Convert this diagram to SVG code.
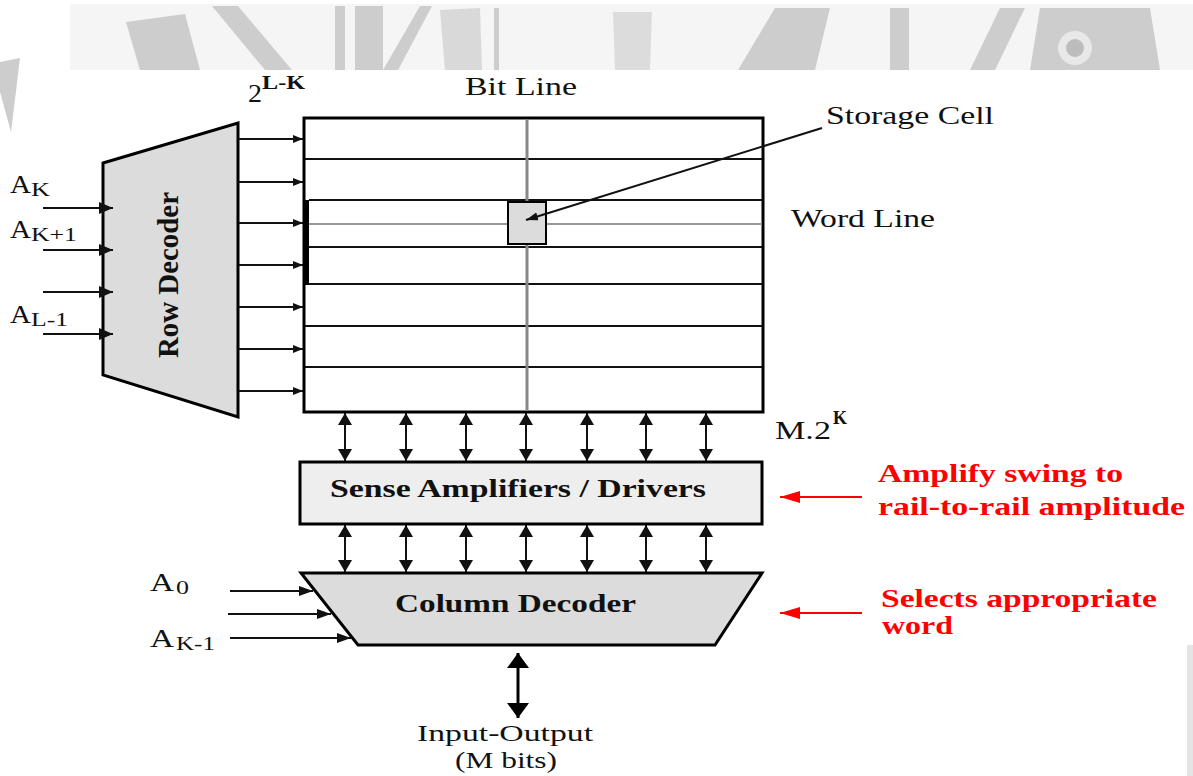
<svg xmlns="http://www.w3.org/2000/svg" width="1193" height="776" viewBox="0 0 1193 776">
<style>
.t{font-family:"Liberation Serif","Times New Roman",serif;fill:#111;font-size:26px}
.b{font-weight:bold}
.red{fill:#ff0000;font-weight:bold}
.sub{font-size:18px}
.io{font-size:24px}
.ln{stroke:#111;stroke-width:2;fill:none}
.box{stroke:#000;stroke-width:3}
.wm{fill:#cdcdcd}
</style>
<defs>
<marker id="aSm" markerUnits="userSpaceOnUse" markerWidth="11" markerHeight="9" refX="10" refY="4" orient="auto"><path d="M0,0 L10,4 L0,8 z" fill="#111"/></marker>
<marker id="aIn" markerUnits="userSpaceOnUse" markerWidth="15" markerHeight="13" refX="14" refY="6" orient="auto"><path d="M0,0 L14,6 L0,12 z" fill="#111"/></marker>
<marker id="aV" markerUnits="userSpaceOnUse" markerWidth="13" markerHeight="15" refX="12" refY="7" orient="auto-start-reverse"><path d="M0,0 L12,7 L0,14 z" fill="#111"/></marker>
<marker id="aCol" markerUnits="userSpaceOnUse" markerWidth="15" markerHeight="11" refX="14" refY="5" orient="auto"><path d="M0,0 L14,5 L0,10 z" fill="#111"/></marker>
<marker id="aIO" markerUnits="userSpaceOnUse" markerWidth="16" markerHeight="23" refX="15" refY="11" orient="auto-start-reverse"><path d="M0,0 L15,11 L0,22 z" fill="#000"/></marker>
<marker id="aRed" markerUnits="userSpaceOnUse" markerWidth="21" markerHeight="13" refX="20" refY="6" orient="auto"><path d="M0,0 L20,6 L0,12 z" fill="#ff0000"/></marker>
<marker id="aCell" markerUnits="userSpaceOnUse" markerWidth="13" markerHeight="9" refX="12" refY="4" orient="auto"><path d="M0,0 L12,4 L0,8 z" fill="#111"/></marker>
</defs>
<rect width="1193" height="776" fill="#fff"/>

<!-- watermark band -->
<g id="watermark">
<rect x="70" y="4" width="1123" height="66" fill="#f5f5f5"/>
<polygon class="wm" points="126,22 185,14 200,70 140,70"/>
<polygon class="wm" points="212,6 238,6 292,70 265,70"/>
<polygon class="wm" points="335,6 345,6 345,70 335,70"/>
<polygon class="wm" points="355,6 383,6 383,70 355,70"/>
<polygon class="wm" points="383,70 420,6 432,6 398,70"/>
<polygon class="wm" points="440,10 480,8 482,70 445,70" fill-opacity="0.7"/>
<rect x="494" y="8" width="5" height="62" class="wm"/>
<polygon points="613,12 652,12 650,70 615,70" fill="#dcdcdc"/>
<polygon class="wm" points="775,8 830,8 815,70 738,70"/>
<rect x="890" y="8" width="19" height="62" class="wm"/>
<polygon class="wm" points="1000,8 1025,8 995,70 970,70"/>
<polygon class="wm" points="1040,8 1150,8 1160,70 1030,70"/>
<circle cx="1075" cy="48" r="17" fill="#e8e8e8"/>
<circle cx="1075" cy="48" r="9" fill="#bdbdbd"/>
<polygon class="wm" points="0,62 20,58 11,132 0,92"/>
<rect x="1187" y="645" width="6" height="131" fill="#e4e4e4"/>
</g>

<!-- Row decoder -->
<g id="row-decoder">
<polygon class="box" points="103,163 238,123 238,417 103,375" fill="#dcdcdc"/>
<text class="t b" transform="translate(178,275) scale(1.15,1) rotate(-90)" text-anchor="middle" font-size="27" textLength="166" lengthAdjust="spacingAndGlyphs">Row Decoder</text>
</g>

<!-- Memory array -->
<g id="memory-array">
<rect x="304" y="118" width="459" height="294" fill="#fff" class="box"/>
<rect x="303" y="200" width="6" height="85" fill="#000"/>
<g stroke="#111" stroke-width="2">
<line x1="305" y1="159" x2="762" y2="159"/>
<line x1="309" y1="200" x2="762" y2="200"/>
<line x1="309" y1="247" x2="762" y2="247"/>
<line x1="309" y1="284" x2="762" y2="284"/>
<line x1="305" y1="326" x2="762" y2="326"/>
<line x1="305" y1="367" x2="762" y2="367"/>
</g>
<line id="word-line" x1="309" y1="224" x2="762" y2="224" stroke="#999" stroke-width="2"/>
<line id="bit-line" x1="527" y1="119" x2="527" y2="411" stroke="#888" stroke-width="3"/>
</g>

<g id="storage-cell">
<rect x="508" y="202" width="38" height="42" fill="#dcdcdc" stroke="#000" stroke-width="2"/>
</g>

<!-- Sense amplifiers -->
<g id="sense-amplifiers">
<rect x="300" y="462" width="462" height="62" fill="#eeeeee" class="box"/>
<text class="t b" x="330" y="497" textLength="376" lengthAdjust="spacingAndGlyphs">Sense Amplifiers / Drivers</text>
</g>

<!-- Column decoder -->
<g id="column-decoder">
<polygon class="box" points="301,573 762,573 715,645 358,645" fill="#dcdcdc"/>
<text class="t b" x="395" y="612" textLength="241" lengthAdjust="spacingAndGlyphs">Column Decoder</text>
</g>

<!-- Labels -->
<g id="labels">
<text class="t" x="248" y="102" textLength="14" lengthAdjust="spacingAndGlyphs">2</text>
<text class="t b sub" x="262" y="89" textLength="43" lengthAdjust="spacingAndGlyphs">L-K</text>
<text class="t" x="465" y="95" textLength="112" lengthAdjust="spacingAndGlyphs">Bit Line</text>
<text class="t" x="826" y="124" textLength="168" lengthAdjust="spacingAndGlyphs">Storage Cell</text>
<text class="t" x="791" y="227" textLength="144" lengthAdjust="spacingAndGlyphs">Word Line</text>
<text class="t" x="775" y="439" textLength="56" lengthAdjust="spacingAndGlyphs">M.2</text>
<text class="t b sub" x="833" y="424" textLength="14" lengthAdjust="spacingAndGlyphs">K</text>

<text class="t" x="10" y="193" textLength="21" lengthAdjust="spacingAndGlyphs">A</text>
<text class="t sub" x="31" y="196" textLength="19" lengthAdjust="spacingAndGlyphs">K</text>
<text class="t" x="10" y="238" textLength="21" lengthAdjust="spacingAndGlyphs">A</text>
<text class="t sub" x="31" y="241" textLength="46" lengthAdjust="spacingAndGlyphs">K+1</text>
<text class="t" x="10" y="323" textLength="21" lengthAdjust="spacingAndGlyphs">A</text>
<text class="t sub" x="31" y="326" textLength="37" lengthAdjust="spacingAndGlyphs">L-1</text>

<text class="t" x="150" y="591" textLength="24" lengthAdjust="spacingAndGlyphs">A</text>
<text class="t sub" x="176" y="594" textLength="13" lengthAdjust="spacingAndGlyphs">0</text>
<text class="t" x="150" y="647" textLength="24" lengthAdjust="spacingAndGlyphs">A</text>
<text class="t sub" x="176" y="650" textLength="39" lengthAdjust="spacingAndGlyphs">K-1</text>

<text class="t io" x="417" y="741" textLength="176" lengthAdjust="spacingAndGlyphs">Input-Output</text>
<text class="t io" x="455" y="768" textLength="102" lengthAdjust="spacingAndGlyphs">(M bits)</text>

<text class="t red" x="878" y="482" textLength="245" lengthAdjust="spacingAndGlyphs">Amplify swing to</text>
<text class="t red" x="878" y="515" textLength="307" lengthAdjust="spacingAndGlyphs">rail-to-rail amplitude</text>
<text class="t red" x="881" y="607" textLength="276" lengthAdjust="spacingAndGlyphs">Selects appropriate</text>
<text class="t red" x="882" y="634" textLength="71" lengthAdjust="spacingAndGlyphs">word</text>
</g>

<!-- Connectors -->
<g id="connectors">
<g class="ln" marker-end="url(#aIn)">
<line x1="43" y1="208" x2="113" y2="208"/>
<line x1="43" y1="250" x2="113" y2="250"/>
<line x1="43" y1="292" x2="113" y2="292"/>
<line x1="43" y1="334" x2="113" y2="334"/>
</g>
<g class="ln" marker-end="url(#aSm)">
<line x1="239" y1="139" x2="303" y2="139"/>
<line x1="239" y1="182" x2="303" y2="182"/>
<line x1="239" y1="223" x2="303" y2="223"/>
<line x1="239" y1="265" x2="303" y2="265"/>
<line x1="239" y1="307" x2="303" y2="307"/>
<line x1="239" y1="349" x2="303" y2="349"/>
<line x1="239" y1="391" x2="303" y2="391"/>
</g>
<g class="ln" marker-start="url(#aV)" marker-end="url(#aV)">
<line x1="345" y1="413" x2="345" y2="461"/>
<line x1="406" y1="413" x2="406" y2="461"/>
<line x1="466" y1="413" x2="466" y2="461"/>
<line x1="526" y1="413" x2="526" y2="461"/>
<line x1="587" y1="413" x2="587" y2="461"/>
<line x1="646" y1="413" x2="646" y2="461"/>
<line x1="706" y1="413" x2="706" y2="461"/>
<line x1="345" y1="525" x2="345" y2="572"/>
<line x1="406" y1="525" x2="406" y2="572"/>
<line x1="466" y1="525" x2="466" y2="572"/>
<line x1="526" y1="525" x2="526" y2="572"/>
<line x1="587" y1="525" x2="587" y2="572"/>
<line x1="646" y1="525" x2="646" y2="572"/>
<line x1="706" y1="525" x2="706" y2="572"/>
</g>
<g class="ln" marker-end="url(#aCol)">
<line x1="230" y1="591" x2="313" y2="591"/>
<line x1="228" y1="614" x2="331" y2="614"/>
<line x1="230" y1="638" x2="351" y2="638"/>
</g>
<line x1="518" y1="653" x2="518" y2="718" stroke="#000" stroke-width="3" marker-start="url(#aIO)" marker-end="url(#aIO)"/>
<line x1="822" y1="128" x2="526" y2="220" class="ln" stroke-width="1.6" marker-end="url(#aCell)"/>
<line x1="862" y1="497" x2="780" y2="497" stroke="#ff0000" stroke-width="2" marker-end="url(#aRed)"/>
<line x1="862" y1="613" x2="780" y2="613" stroke="#ff0000" stroke-width="2" marker-end="url(#aRed)"/>
</g>
</svg>
